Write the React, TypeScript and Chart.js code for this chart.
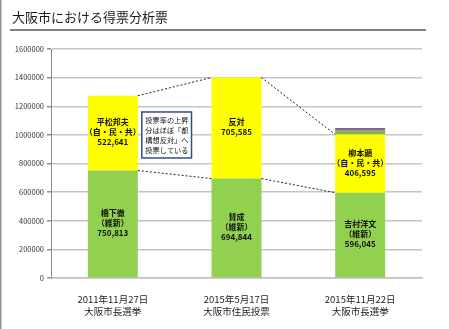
import { useEffect, useRef } from "react";
import { Chart, registerables } from "chart.js";

Chart.register(...registerables);

const chartTitle = "大阪市における得票分析票";
const categories = [
  ["2011年11月27日", "大阪市長選挙"],
  ["2015年5月17日", "大阪市住民投票"],
  ["2015年11月22日", "大阪市長選挙"],
];
const ishinVotes = [750813, 694844, 596045];
const oppositionVotes = [522641, 705585, 406595];
const otherVotesA = [0, 0, 31000];
const otherVotesB = [0, 0, 15000];
const ishinLabels = [
  ["橋下徹", "（維新）", "750,813"],
  ["賛成", "（維新）", "694,844"],
  ["吉村洋文", "（維新）", "596,045"],
];
const oppositionLabels = [
  ["平松邦夫", "（自・民・共）", "522,641"],
  ["反対", "705,585"],
  ["柳本顕", "（自・民・共）", "406,595"],
];
const noteLines = ["投票率の上昇", "分はほぼ「都", "構想反対」へ", "投票している"];
const noteTopValue = 1160000;
const yMax = 1600000;
const yStep = 200000;

const FONT = '"Noto Sans CJK JP", "Noto Sans", sans-serif';

const decorPlugin = {
  id: "decor",
  beforeDraw(chart: any) {
    const ctx = chart.ctx;
    ctx.save();
    ctx.fillStyle = "#ffffff";
    ctx.fillRect(0, 0, chart.width, chart.height);
    ctx.fillStyle = "#8a94a3";
    ctx.fillRect(0, 0, 1.5, chart.height);
    ctx.fillStyle = "#1a1a1a";
    ctx.font = `13px ${FONT}`;
    ctx.textBaseline = "middle";
    ctx.textAlign = "left";
    ctx.fillText(chartTitle, 12, 17);
    ctx.strokeStyle = "#595959";
    ctx.lineWidth = 1.5;
    ctx.beginPath();
    ctx.moveTo(10, 30);
    ctx.lineTo(426, 30);
    ctx.stroke();
    ctx.restore();
  },
  afterDatasetsDraw(chart: any) {
    const ctx = chart.ctx;
    const green = chart.getDatasetMeta(0).data;
    const yellow = chart.getDatasetMeta(1).data;
    ctx.save();
    ctx.strokeStyle = "#222";
    ctx.lineWidth = 1;
    ctx.setLineDash([2, 2]);
    const connect = (els: any[]) => {
      for (let i = 0; i < els.length - 1; i++) {
        const a = els[i];
        const b = els[i + 1];
        ctx.beginPath();
        ctx.moveTo(a.x + a.width / 2, a.y);
        ctx.lineTo(b.x - b.width / 2, b.y);
        ctx.stroke();
      }
    };
    connect(yellow);
    connect(green);
    ctx.setLineDash([]);

    ctx.fillStyle = "#111";
    ctx.textAlign = "center";
    ctx.textBaseline = "middle";
    ctx.font = `bold 8px ${FONT}`;
    const drawLabels = (els: any[], labels: string[][]) => {
      els.forEach((el: any, i: number) => {
        const lines = labels[i];
        const cy = (el.y + el.base) / 2 - 1;
        const lh = 10;
        const start = cy - ((lines.length - 1) * lh) / 2;
        lines.forEach((t, j) => ctx.fillText(t, el.x, start + j * lh));
      });
    };
    drawLabels(green, ishinLabels);
    drawLabels(yellow, oppositionLabels);

    const a = yellow[0];
    const b = yellow[1];
    const left = a.x + a.width / 2 + 4;
    const right = b.x - b.width / 2 - 20;
    const top = chart.scales.y.getPixelForValue(noteTopValue);
    const h = 46;
    ctx.fillStyle = "#ffffff";
    ctx.fillRect(left, top, right - left, h);
    ctx.strokeStyle = "#2f4f7f";
    ctx.lineWidth = 1.5;
    ctx.strokeRect(left, top, right - left, h);
    ctx.fillStyle = "#111";
    ctx.font = `7.2px ${FONT}`;
    ctx.textAlign = "left";
    noteLines.forEach((t, j) => ctx.fillText(t, left + 3.5, top + 8 + j * 10.2));
    ctx.restore();
  },
};

export default function App() {
  const ref = useRef<HTMLCanvasElement | null>(null);
  useEffect(() => {
    if (!ref.current) return;
    const chart = new Chart(ref.current, {
      type: "bar",
      data: {
        labels: categories,
        datasets: [
          { label: "維新", data: ishinVotes, backgroundColor: "#92d050" },
          { label: "反維新", data: oppositionVotes, backgroundColor: "#ffff00" },
          { label: "その他A", data: otherVotesA, backgroundColor: "#8fa860" },
          { label: "その他B", data: otherVotesB, backgroundColor: "#7f65a0" },
        ],
      },
      options: {
        responsive: false,
        animation: false,
        layout: { padding: { left: 0, right: 27, top: 49, bottom: 0 } },
        plugins: { legend: { display: false }, tooltip: { enabled: false }, title: { display: false } },
        datasets: { bar: { categoryPercentage: 1, barPercentage: 0.404 } },
        scales: {
          x: {
            stacked: true,
            grid: { display: false },
            border: { display: true, color: "#bfbfbf", width: 1.5 },
            ticks: { color: "#222", font: { family: FONT, size: 9.5 }, padding: 8 },
            afterFit: (s: any) => { s.height = 51; },
          },
          y: {
            stacked: true,
            min: 0,
            max: yMax,
            ticks: {
              stepSize: yStep,
              color: "#333",
              padding: 3,
              font: { family: FONT, size: 7.5 },
              callback: (v: any) => String(v),
            },
            grid: { color: "#c4c4c4", lineWidth: 1.5, tickLength: 4, tickColor: "#8c8c8c" },
            border: { display: true, color: "#8c8c8c", width: 1 },
            afterFit: (s: any) => { s.width = 51; },
          },
        },
      },
      plugins: [decorPlugin],
    });
    return () => chart.destroy();
  }, []);
  return (
    <div style={{ position: "fixed", left: 0, top: 0, width: 449, height: 329 }}>
      <canvas ref={ref} width={449} height={329} style={{ width: 449, height: 329, display: "block" }} />
    </div>
  );
}
